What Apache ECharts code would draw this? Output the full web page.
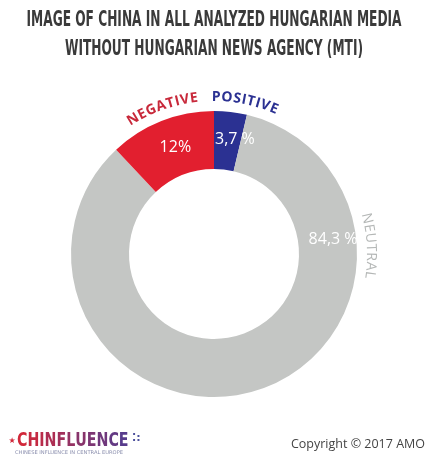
<!DOCTYPE html>
<html><head><meta charset="utf-8">
<script src="https://cdn.jsdelivr.net/npm/echarts@6/dist/echarts.min.js"></script>
<style>html,body{margin:0;padding:0;background:#fff}#c{width:428px;height:470px}</style>
</head><body><div id="c"></div>
<script>
// ---- data ----
var categories = ['POSITIVE', 'NEUTRAL', 'NEGATIVE'];
var values = [3.7, 84.3, 12];
var valueLabels = ['3,7 %', '84,3 %', '12%'];
var titleLines = ['IMAGE OF CHINA IN ALL ANALYZED HUNGARIAN MEDIA', 'WITHOUT HUNGARIAN NEWS AGENCY (MTI)'];

// ---- style ----
var colors = ['#2B3192', '#C4C6C4', '#E21F2F'];
var catColors = ['#2B3192', '#B4B7B6', '#C8283A'];
var catWeights = ['bold', 'normal', 'bold'];
var catAngles = [11.5, 87, -19.5];      // deg clockwise from top, label centres
var valAngles = [10.4, 83, -20];
var valRadius = [116, 120, 113];
var cx = 214, cy = 254, rIn = 85, rOut = 143, rCat = 157;

var ctx = document.createElement('canvas').getContext('2d');
function measure(t, font) { ctx.font = font; return ctx.measureText(t).width; }

var graphics = [];
var condensed = '"Liberation Sans Narrow","DejaVu Sans Condensed","Liberation Sans",sans-serif';

// title
var titleTargets = [375, 298], titleY = [21, 50];
titleLines.forEach(function (t, i) {
  var font = 'bold 21px ' + condensed;
  var w = measure(t, font);
  graphics.push({
    type: 'text', x: 214, y: titleY[i], scaleX: titleTargets[i] / w,
    style: { text: t, fill: '#3a3a3a', font: font, textAlign: 'center', textVerticalAlign: 'middle' }
  });
});

// curved category labels
categories.forEach(function (t, i) {
  var font = catWeights[i] + ' 14px "Open Sans",sans-serif';
  var sp = 0.8;
  var ws = t.split('').map(function (ch) { return measure(ch, font); });
  var W = ws.reduce(function (a, b) { return a + b; }, 0) + sp * (ws.length - 1);
  var th0 = catAngles[i] * Math.PI / 180 - W / 2 / rCat;
  var cum = 0;
  t.split('').forEach(function (ch, k) {
    var th = th0 + (cum + ws[k] / 2) / rCat;
    cum += ws[k] + sp;
    graphics.push({
      type: 'text', x: cx + rCat * Math.sin(th), y: cy - rCat * Math.cos(th), rotation: -th,
      style: { text: ch, fill: catColors[i], font: font, textAlign: 'center', textVerticalAlign: 'middle' }
    });
  });
});

// value labels
valueLabels.forEach(function (t, i) {
  var th = valAngles[i] * Math.PI / 180;
  graphics.push({
    type: 'text', x: cx + valRadius[i] * Math.sin(th), y: cy - valRadius[i] * Math.cos(th), z: 10,
    style: { text: t, fill: '#ffffff', font: '16px "Open Sans",sans-serif', textAlign: 'center', textVerticalAlign: 'middle' }
  });
});

// logo
var logo = 'CHINFLUENCE';
var c1 = [209, 40, 58], c2 = [88, 60, 140];
var rich = {}, str = '';
logo.split('').forEach(function (ch, k) {
  var f = k / (logo.length - 1);
  var col = 'rgb(' + [0, 1, 2].map(function (j) { return Math.round(c1[j] + (c2[j] - c1[j]) * f); }).join(',') + ')';
  rich['l' + k] = { fill: col, font: 'bold 20px ' + condensed };
  str += '{l' + k + '|' + ch + '}';
});
var logoW = measure(logo, 'bold 20px ' + condensed);
graphics.push({ type: 'text', x: 17, y: 441, scaleX: 111 / logoW,
  style: { rich: rich, text: str, textVerticalAlign: 'middle' } });
graphics.push({ type: 'text', x: 12, y: 441, style: { text: '★', fill: '#d1283a', font: '8px "DejaVu Sans",sans-serif', textAlign: 'center', textVerticalAlign: 'middle' } });
graphics.push({ type: 'text', x: 132, y: 438, style: { text: '⁚:', fill: '#4b4f9c', font: 'bold 11px "DejaVu Sans",sans-serif', textVerticalAlign: 'middle' } });
var sub = 'CHINESE INFLUENCE IN CENTRAL EUROPE';
var subW = measure(sub, '5px ' + condensed);
graphics.push({ type: 'text', x: 15, y: 453, scaleX: 108 / subW,
  style: { text: sub, fill: '#8b8fae', font: '5px ' + condensed, textVerticalAlign: 'middle' } });
graphics.push({ type: 'text', x: 425, y: 444,
  style: { text: 'Copyright © 2017 AMO', fill: '#444', font: '12.5px "Open Sans",sans-serif', textAlign: 'right', textVerticalAlign: 'middle' } });

var chart = echarts.init(document.getElementById('c'), null, { renderer: 'canvas' });
chart.setOption({
  animation: false,
  series: [{
    type: 'pie', center: [cx, cy], radius: [rIn, rOut], startAngle: 90, clockwise: true,
    label: { show: false }, labelLine: { show: false }, silent: true,
    data: categories.map(function (c, i) { return { name: c, value: values[i], itemStyle: { color: colors[i] } }; })
  }],
  graphic: graphics
});
</script></body></html>
